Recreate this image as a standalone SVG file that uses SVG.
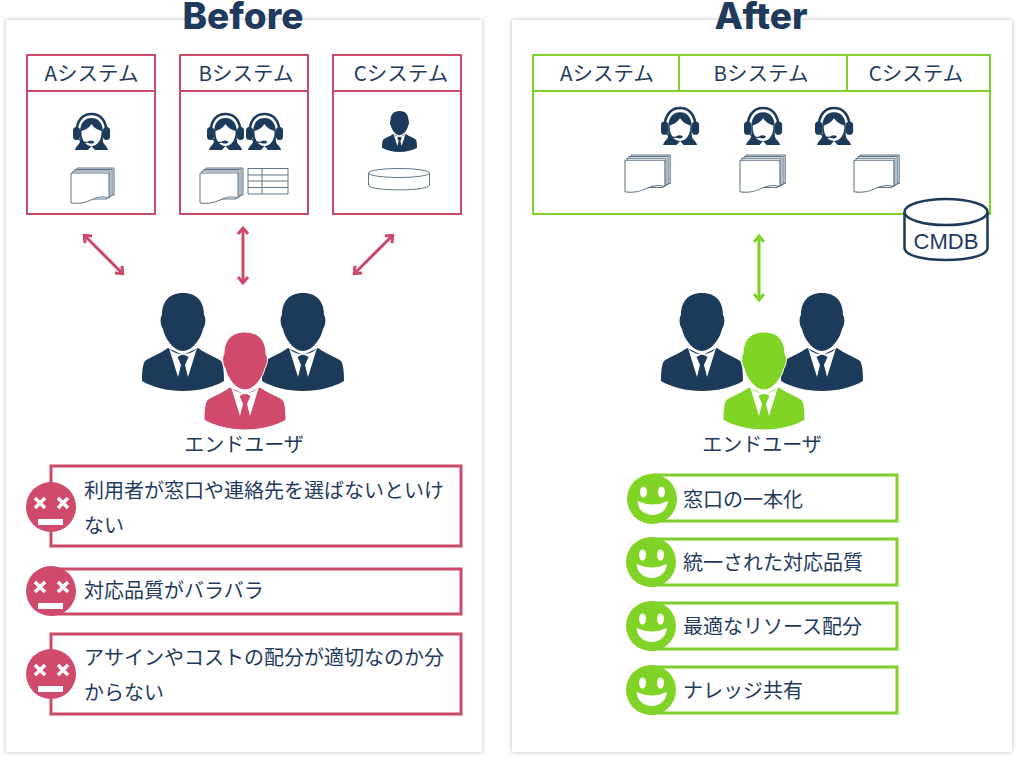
<svg xmlns="http://www.w3.org/2000/svg" width="1018" height="759" viewBox="0 0 1018 759">
<style>
.t{font-family:"Noto Sans CJK JP","Noto Sans",sans-serif;font-size:20px;fill:#1f3a5c}
.l{font-size:20.500px}
.m{text-anchor:middle}
.h{font-family:Inter,"Liberation Sans",sans-serif;font-size:37px;font-weight:800;fill:#1f3a5c;text-anchor:middle}
.p{fill:#fff;filter:url(#sh)}
.r{fill:#fff;stroke:#cb4a69;stroke-width:2}
.g{fill:#fff;stroke:#7fd02a;stroke-width:2}
.r3{fill:#fff;stroke:#cb4a69;stroke-width:3}
.g3{fill:#fff;stroke:#7fd02a;stroke-width:3}
.n{fill:#1c3a5a}
.pk{fill:#d04a6b;stroke:#fff;stroke-width:1}
.gr{fill:#7fd426}
.grp{fill:#7fd426;stroke:#fff;stroke-width:1}
.ar{fill:none;stroke:#cb4a69;stroke-width:3;marker-start:url(#ah);marker-end:url(#ah)}
.ag{fill:none;stroke:#7fd02a;stroke-width:3;marker-start:url(#ahg);marker-end:url(#ahg)}
.o{fill:#fff;stroke:#5f7488;stroke-width:1}
</style>
<defs>
<filter id="sh" x="-3%" y="-3%" width="106%" height="106%"><feDropShadow dx="0" dy="0" stdDeviation="2" flood-color="#000" flood-opacity=".28"/></filter>
<marker id="ah" markerUnits="userSpaceOnUse" markerWidth="14" markerHeight="14" refX="9" refY="7" orient="auto-start-reverse"><path d="M4 2L10 7L4 12" fill="none" stroke="#cb4a69" stroke-width="3"/></marker>
<marker id="ahg" markerUnits="userSpaceOnUse" markerWidth="14" markerHeight="14" refX="9" refY="7" orient="auto-start-reverse"><path d="M4 2L10 7L4 12" fill="none" stroke="#7fd02a" stroke-width="3"/></marker>
<g id="person">
<path d="M26 55C18 61 8 64 3 68C0 72 0 84 0 88C10 94 25 98 41 98C57 98 72 94 82 88C82 84 82 72 79 68C74 64 64 61 56 55L41 62Z"/>
<path d="M27 55L36 84L39 72L35.500 64L41 61L46.500 64L43 72L46 84L55 55C52 59 47 61 41 61C35 61 30 59 27 55Z" fill="#fff" stroke="none"/>
<path d="M41 0C26 0 20 10 20 22C18 24 18 32 21 36C23 46 32 58 41 58C50 58 59 46 61 36C64 32 64 24 62 22C62 10 56 0 41 0Z"/>
</g>
<g id="lady">
<path d="M3.500 20C3.500 7 10 1 18.500 1C27 1 33.500 7 33.500 20" fill="none" stroke="#1c3a5a" stroke-width="2.500"/>
<rect x="0" y="14" width="7" height="13" rx="3.500" class="n"/>
<rect x="30" y="14" width="7" height="13" rx="3.500" class="n"/>
<path d="M18.500 5C10 5 7 12 7 20C7 27 8 29 5 32C3 34 2 36 2 37H15L18.500 33L22 37H35C35 36 34 34 32 32C29 29 30 27 30 20C30 12 27 5 18.500 5Z" class="n"/>
<path d="M18.500 11C16 15 12 17 8.500 18C8 26 12 33 18.500 33C25 33 29 26 28.500 18C25 17 21 15 18.500 11Z" fill="#fff"/>
<path d="M5 25C7 29 12 30 17 29" fill="none" stroke="#1c3a5a" stroke-width="1.200"/>
<ellipse cx="18" cy="29" rx="3" ry="1.500" class="n"/>
</g>
<g id="doc">
<path d="M6 0H43V27H39V29H6Z" fill="#dfe5ea" stroke="#5f7488"/>
<path d="M4 1.500H41V28H37V30H4Z" fill="#fff" stroke="#5f7488"/>
<path d="M2 3H39V29H36V31H2Z" fill="#fff" stroke="#5f7488"/>
<path d="M0 5H38V30C31 28 26 29 20 32C14 35 6 36 0 35Z" class="o"/>
</g>
<g id="bad">
<circle r="25" fill="#d04a6b"/>
<path d="M-16 -9L-6 1M-6 -9L-16 1M7 -9L17 1M17 -9L7 1" stroke="#fff" stroke-width="3.500" fill="none"/>
<rect x="-13" y="12" width="25" height="6" fill="#fff"/>
</g>
<g id="good">
<circle r="25" class="gr"/>
<ellipse cx="-8.500" cy="-7" rx="3.500" ry="5.500" fill="#fff"/>
<ellipse cx="9.500" cy="-7" rx="3.500" ry="5.500" fill="#fff"/>
<path d="M-14.500 2Q1 9 16 2C15 12 7 16 1 16C-6 16 -14 12 -14.500 2Z" fill="#fff"/>
</g>
</defs>
<rect width="1018" height="759" fill="#fff"/>
<rect class="p" x="6" y="20" width="476" height="732"/>
<rect class="p" x="512" y="20" width="500" height="732"/>
<text class="h" x="243" y="29">Before</text>
<text class="h" x="761" y="29">After</text>

<g id="sysA">
<rect class="r" x="27" y="55" width="128" height="159"/><path d="M27 91H155" class="r"/>
<text class="t l m" x="91.500" y="81">Aシステム</text>
<use href="#lady" x="73" y="113"/>
<use href="#doc" x="71" y="168"/>
</g>
<g id="sysB">
<rect class="r" x="180" y="55" width="128" height="159"/><path d="M180 91H308" class="r"/>
<text class="t l m" x="246" y="81">Bシステム</text>
<use href="#lady" x="207" y="113"/>
<use href="#lady" x="246" y="113"/>
<use href="#doc" x="200" y="168"/>
<path d="M248 168.500H288V194H248ZM248 175H288M248 181H288M248 187.500H288M262 168.500V194" fill="#fff" stroke="#5f7488"/>
</g>
<g id="sysC">
<rect class="r" x="333" y="55" width="128" height="159"/><path d="M333 91H461" class="r"/>
<text class="t l m" x="401" y="81">Cシステム</text>
<use href="#person" class="n" transform="translate(382 111) scale(.427 .418)"/>
<path d="M368.500 173V185C368.500 191.500 429.500 191.500 429.500 185V173" class="o"/>
<ellipse cx="399" cy="173" rx="30.500" ry="4.500" class="o"/>
</g>

<g id="sysAll">
<rect class="g" x="533" y="55" width="457" height="159"/>
<path d="M533 91H990M679 55V91M847 55V91" class="g"/>
<text class="t l m" x="607" y="81">Aシステム</text>
<text class="t l m" x="761" y="81">Bシステム</text>
<text class="t l m" x="916" y="81">Cシステム</text>
<use href="#lady" transform="translate(661 107) scale(1.030)"/>
<use href="#lady" transform="translate(744 107) scale(1.030)"/>
<use href="#lady" transform="translate(815 107) scale(1.030)"/>
<use href="#doc" transform="translate(625 155) scale(1.050)"/>
<use href="#doc" transform="translate(740 155) scale(1.050)"/>
<use href="#doc" transform="translate(854 155) scale(1.050)"/>
</g>
<g id="cmdb">
<path d="M904.500 212V248C904.500 264 987.500 264 987.500 248V212" fill="#fff" stroke="#1c3a5a" stroke-width="2.500"/>
<ellipse cx="946" cy="212" rx="41.500" ry="13" fill="#fff" stroke="#1c3a5a" stroke-width="2.500"/>
<text x="946" y="249" font-family="'Liberation Sans',sans-serif" font-size="22" fill="#1f3a5c" text-anchor="middle">CMDB</text>
</g>

<g id="connectors">
<path class="ar" d="M85 236L122 273"/>
<path class="ar" d="M243 229V282"/>
<path class="ar" d="M392 236L355 273"/>
<path class="ag" d="M759 237V299"/>
</g>

<g id="usersBefore">
<use href="#person" class="n" x="142" y="293"/>
<use href="#person" class="n" x="262" y="293"/>
<use href="#person" class="pk" x="204" y="332"/>
<text class="t m" x="244" y="452">エンドユーザ</text>
</g>
<g id="usersAfter">
<use href="#person" class="n" x="661" y="293"/>
<use href="#person" class="n" x="781" y="293"/>
<use href="#person" class="grp" x="723" y="332"/>
<text class="t m" x="762" y="452">エンドユーザ</text>
</g>

<g id="issue1">
<rect class="r3" x="51" y="466" width="410" height="80"/>
<use href="#bad" x="51" y="507"/>
<text class="t" x="84" y="498">利用者が窓口や連絡先を選ばないといけ</text>
<text class="t" x="84" y="533">ない</text>
</g>
<g id="issue2">
<rect class="r3" x="51" y="569" width="410" height="45"/>
<use href="#bad" x="51" y="591"/>
<text class="t" x="84" y="598">対応品質がバラバラ</text>
</g>
<g id="issue3">
<rect class="r3" x="51" y="634" width="410" height="80"/>
<use href="#bad" x="51" y="674"/>
<text class="t" x="84" y="665">アサインやコストの配分が適切なのか分</text>
<text class="t" x="84" y="700">からない</text>
</g>

<g id="merit1">
<rect class="g3" x="652" y="475" width="245" height="46"/>
<use href="#good" x="652" y="499"/>
<text class="t" x="683" y="507">窓口の一本化</text>
</g>
<g id="merit2">
<rect class="g3" x="652" y="539" width="245" height="46"/>
<use href="#good" x="651" y="562"/>
<text class="t" x="683" y="570">統一された対応品質</text>
</g>
<g id="merit3">
<rect class="g3" x="652" y="603" width="245" height="46"/>
<use href="#good" x="651" y="626"/>
<text class="t" x="683" y="634">最適なリソース配分</text>
</g>
<g id="merit4">
<rect class="g3" x="652" y="667" width="245" height="46"/>
<use href="#good" x="651" y="690"/>
<text class="t" x="683" y="698">ナレッジ共有</text>
</g>
</svg>
